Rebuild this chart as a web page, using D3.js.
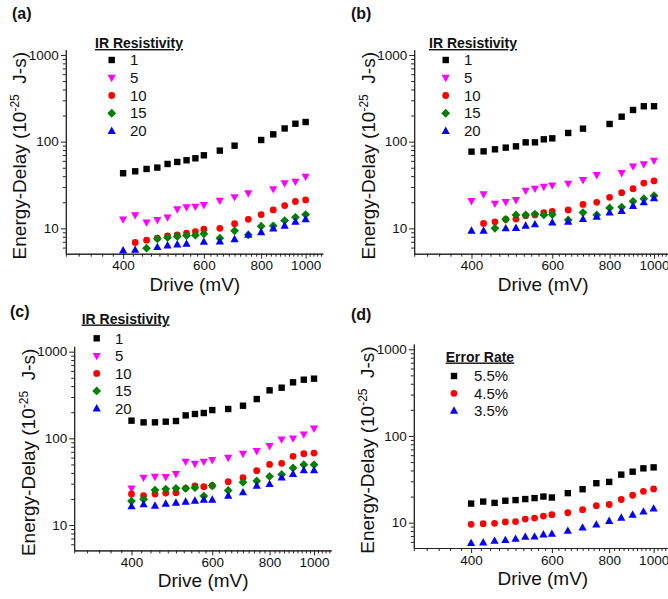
<!DOCTYPE html>
<html><head><meta charset="utf-8">
<script src="https://cdn.jsdelivr.net/npm/d3@7"></script>
<style>body{margin:0;background:#fff} svg{display:block}</style>
</head><body><svg id="chart" width="668" height="599"></svg>
<script>
// ---------- data ----------
const drive = [400,425,450,475,500,525,550,575,600,650,700,750,800,850,900,950,1000];

const xMajorTicks = [400,600,800,1000];
const yMajorTicks = [10,100,1000];

const irLabels = ["1","5","10","15","20"];
const errLabels = ["5.5%","4.5%","3.5%"];

// panel (a)
const a_r1  = [43.2,45.5,48.4,50.2,55.3,58.3,61.0,64.3,69.6,78.8,89.9,null,104.5,121.5,142,161,168.5];
const a_r5  = [12.7,14.2,11.7,12.5,13.4,16.6,17.5,17.8,18.6,20.9,22.9,25.4,null,28.3,33.1,34.6,39.5];
const a_r10 = [null,6.87,7.31,7.7,8.2,8.42,8.8,9.19,9.78,10.0,11.3,12.7,14.4,16.3,18.3,20.4,21.3];
const a_r15 = [null,null,5.91,7.57,7.84,8.05,8.27,8.34,8.64,7.7,9.36,8.42,10.6,10.7,12.3,13.4,14.4];
const a_r20 = [5.56,5.65,null,6.07,6.34,6.52,6.63,null,6.99,7.05,7.5,8.42,9.03,9.96,10.7,11.9,12.75];

// panel (b)
const b_r1  = [76.7,77.3,81.6,85.3,88.3,98.2,98.2,106.4,109.2,126,141.3,null,160,194,232,256,256];
const b_r5  = [20.7,24.7,19.3,20.1,21.2,27.2,28.7,30.2,31.3,32.8,36.1,41.3,null,43.5,51.9,54.8,60.4];
const b_r10 = [null,11.4,11.9,12.7,12.8,14.0,14.3,15.2,15.7,16.3,18.9,19.95,22.8,25.8,28.7,33.3,35.2];
const b_r15 = [null,null,10.0,12.7,14.3,14.3,14.6,14.3,14.4,12.5,15.2,14.3,17.2,17.6,20.5,22.0,23.8];
const b_r20 = [9.4,9.4,null,10.0,10.1,10.7,11.1,null,11.7,11.9,12.8,13.6,15.2,15.85,18.1,19.95,22.2];

// panel (c)
const c_r1  = [160,153,153,155.7,158.5,184,191,196,212,218,238,284,358,384,443,475,488];
const c_r5  = [26.5,35.2,36.1,35.8,38.8,53.8,51.0,53.8,56.2,59.8,66.5,71.4,81.6,97.3,100,111,130];
const c_r10 = [22.8,21.8,22.8,23.4,23.6,26.5,28.2,27.7,28.4,31.6,35.2,42.4,50.1,51.5,62.0,66.5,67.7];
const c_r15 = [18.9,19.8,25.3,26.0,26.5,26.5,27.0,21.6,28.4,25.1,31.1,32.2,36.4,38.4,45.5,49.7,49.7];
const c_r20 = [16.4,17.3,16.7,17.6,18.1,18.6,19.1,19.6,19.6,21.8,23.8,28.4,29.7,35.2,38.8,42.7,42.7];

// panel (d)
const d_e55 = [16.6,17.5,16.9,17.9,18.2,18.7,19.2,20.0,19.5,21.9,24.3,28.5,29.5,35.8,38.7,42.3,43.4];
const d_e45 = [9.57,9.74,9.83,10.2,10.3,11.0,11.3,11.9,12.35,13.0,14.1,15.7,16.2,18.5,20.7,23.0,24.5];
const d_e35 = [5.8,5.9,6.17,6.28,6.5,6.85,6.91,7.29,7.42,8.03,8.77,9.49,10.45,11.4,12.35,13.4,14.5];

// ---------- styles / layout ----------
const FONT = '"Liberation Sans", Arial, Helvetica, sans-serif';
const xDomain = [300,1090], yDomain = [5.1,1150];
const plotW = 257, plotH = 204;
const xMinorTicks = d3.range(300,1090,20).filter(v => !xMajorTicks.includes(v));
const yMinorTicks = [6,7,8,9,20,30,40,50,60,70,80,90,200,300,400,500,600,700,800,900];

const COLORS = {sq:"#000000", tdown:"#ff00ff", circ:"#ff0000", diam:"#007f00", tup:"#0000ff"};

const shapes = {
  sq:   {draw(ctx,s){const h=s/2; ctx.rect(-h,-h,s,s);}},
  circ: {draw(ctx,s){const r=s/2; ctx.moveTo(r,0); ctx.arc(0,0,r,0,2*Math.PI);}},
  tup:  {draw(ctx,s){const h=s*0.9; ctx.moveTo(0,-h*0.6); ctx.lineTo(s/2,h*0.4); ctx.lineTo(-s/2,h*0.4); ctx.closePath();}},
  tdown:{draw(ctx,s){const h=s*0.9; ctx.moveTo(0,h*0.6); ctx.lineTo(s/2,-h*0.4); ctx.lineTo(-s/2,-h*0.4); ctx.closePath();}},
  diam: {draw(ctx,s){const h=s/2+0.6; ctx.moveTo(0,-h); ctx.lineTo(h,0); ctx.lineTo(0,h); ctx.lineTo(-h,0); ctx.closePath();}}
};
const SIZES = {sq:6.4, circ:6.8, tup:8.2, tdown:8.2, diam:7.6};
function sym(shape){ return d3.symbol().type(shapes[shape]).size(SIZES[shape])(); }

const panels = [
  {tag:"(a)", left:65.8, top:49.7, tagX:12, tagY:19,
   series:[[a_r1,"sq"],[a_r5,"tdown"],[a_r10,"circ"],[a_r15,"diam"],[a_r20,"tup"]],
   legend:{title:"IR Resistivity", labels:irLabels, shapes:["sq","tdown","circ","diam","tup"],
           titleX:95, titleY:48, mX:111.7, lX:130, y0:60, dy:17.75}},
  {tag:"(b)", left:414.2, top:49.7, tagX:351, tagY:19,
   series:[[b_r1,"sq"],[b_r5,"tdown"],[b_r10,"circ"],[b_r15,"diam"],[b_r20,"tup"]],
   legend:{title:"IR Resistivity", labels:irLabels, shapes:["sq","tdown","circ","diam","tup"],
           titleX:429, titleY:48, mX:445.7, lX:464, y0:60, dy:17.75}},
  {tag:"(c)", left:74.2, top:346.4, tagX:10, tagY:317,
   series:[[c_r1,"sq"],[c_r5,"tdown"],[c_r10,"circ"],[c_r15,"diam"],[c_r20,"tup"]],
   legend:{title:"IR Resistivity", labels:irLabels, shapes:["sq","tdown","circ","diam","tup"],
           titleX:81.7, titleY:323.5, mX:96.7, lX:115, y0:338.3, dy:17.55}},
  {tag:"(d)", left:413.8, top:344.0, tagX:351, tagY:320,
   series:[[d_e55,"sq"],[d_e45,"circ"],[d_e35,"tup"]],
   legend:{title:"Error Rate", labels:errLabels, shapes:["sq","circ","tup"],
           titleX:445.7, titleY:361.5, mX:454, lX:474, y0:376, dy:17.35}}
];

const svg = d3.select("#chart");
svg.append("rect").attr("width",668).attr("height",599).attr("fill","#fff");

function styleAxis(sel){
  sel.selectAll("path,line").attr("stroke","#222").attr("stroke-width",1);
  sel.selectAll("text").attr("fill","#111").style("font-family",FONT).style("font-size","13.5px");
  sel.attr("font-family",null).attr("font-size",null);
}

panels.forEach(p => {
  const x = d3.scaleLog().domain(xDomain).range([p.left, p.left+plotW]);
  const y = d3.scaleLog().domain(yDomain).range([p.top+plotH, p.top]);
  const g = svg.append("g");
  const bottom = p.top + plotH;

  g.append("g").attr("transform",`translate(0,${bottom})`)
    .call(d3.axisBottom(x).tickValues(xMinorTicks).tickSize(3).tickSizeOuter(0).tickFormat(""))
    .call(styleAxis);
  g.append("g").attr("transform",`translate(0,${bottom})`)
    .call(d3.axisBottom(x).tickValues(xMajorTicks).tickSize(5).tickSizeOuter(0).tickPadding(2).tickFormat(d3.format("d")))
    .call(styleAxis);
  g.append("g").attr("transform",`translate(${p.left},0)`)
    .call(d3.axisLeft(y).tickValues(yMinorTicks).tickSize(3).tickSizeOuter(0).tickFormat(""))
    .call(styleAxis);
  g.append("g").attr("transform",`translate(${p.left},0)`)
    .call(d3.axisLeft(y).tickValues(yMajorTicks).tickSize(5).tickSizeOuter(0).tickPadding(2).tickFormat(d3.format("d")))
    .call(styleAxis);

  // axis titles
  const yl = g.append("text")
    .attr("transform",`translate(${p.left-46},${p.top+plotH/2+4}) rotate(-90)`)
    .attr("text-anchor","middle").attr("dy","0.35em")
    .style("font-family",FONT).style("font-size","19px").attr("fill","#111");
  yl.append("tspan").text("Energy-Delay (10");
  yl.append("tspan").attr("dy",-7).style("font-size","12px").text("-25");
  yl.append("tspan").attr("dy",7).text("\u00a0 J-s)");

  g.append("text").attr("x",p.left+129).attr("y",p.top+241)
    .attr("text-anchor","middle").style("font-family",FONT).style("font-size","19px")
    .attr("fill","#111").text("Drive (mV)");

  // panel tag
  svg.append("text").attr("x",p.tagX).attr("y",p.tagY)
    .style("font-family",FONT).style("font-size","16px").style("font-weight","bold")
    .attr("fill","#111").text(p.tag);

  // data points
  p.series.forEach(([vals,shape]) => {
    const pts = drive.map((d,i)=>[d,vals[i]]).filter(d=>d[1]!=null);
    g.append("g").selectAll("path").data(pts).join("path")
      .attr("d", sym(shape))
      .attr("transform", d=>`translate(${x(d[0])},${y(d[1])})`)
      .attr("fill", COLORS[shape]);
  });

  // legend
  const L = p.legend;
  g.append("text").attr("x",L.titleX).attr("y",L.titleY)
    .style("font-family",FONT).style("font-size","14px").style("font-weight","bold")
    .style("text-decoration","underline").attr("fill","#111").text(L.title);
  L.labels.forEach((lab,i) => {
    const cy = L.y0 + i*L.dy;
    g.append("path").attr("d",sym(L.shapes[i])).attr("transform",`translate(${L.mX},${cy})`)
      .attr("fill",COLORS[L.shapes[i]]);
    g.append("text").attr("x",L.lX).attr("y",cy+5.2)
      .style("font-family",FONT).style("font-size","15px").attr("fill","#111").text(lab);
  });
});
</script></body></html>
